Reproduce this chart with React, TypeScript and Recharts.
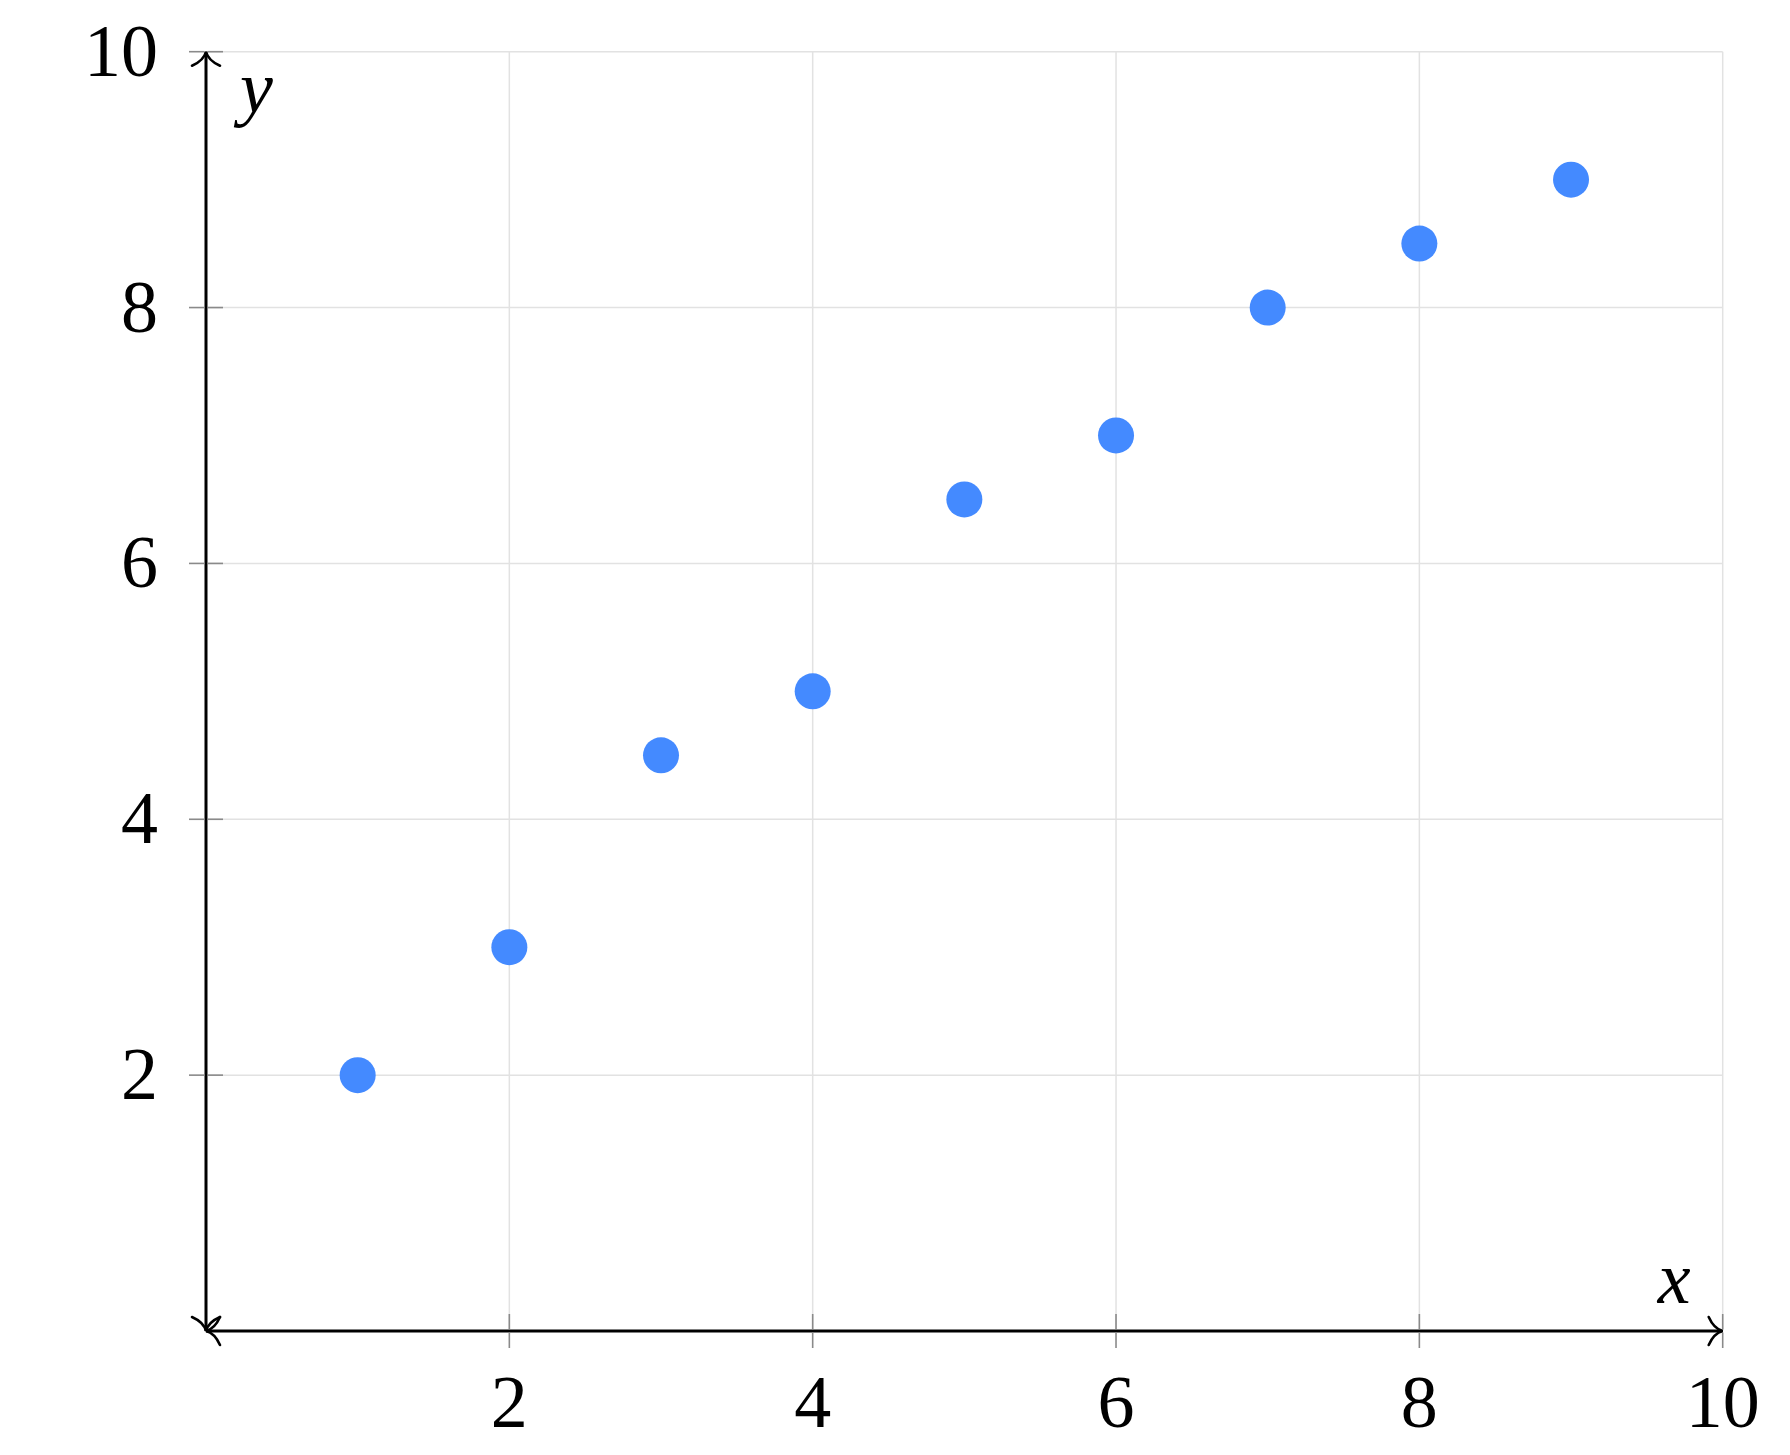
import React from 'react';
import { ScatterChart, Scatter, XAxis, YAxis, CartesianGrid } from 'recharts';

const xValues = [1, 2, 3, 4, 5, 6, 7, 8, 9];
const yValues = [2, 3, 4.5, 5, 6.5, 7, 8, 8.5, 9];
const xTicks = [2, 4, 6, 8, 10];
const yTicks = [2, 4, 6, 8, 10];
const axisDomain: [number, number] = [0, 10];
const xAxisName = 'x';
const yAxisName = 'y';

const data = xValues.map((x, i) => ({ x, y: yValues[i] }));

const FONT = '"Liberation Serif", "DejaVu Serif", serif';
const TICK_COLOR = '#8a8a8a';

const XTick = (props: any) => {
  const { x, y, payload } = props;
  return (
    <g>
      <line x1={x} x2={x} y1={y - 17} y2={y - 1.5} stroke={TICK_COLOR} strokeWidth={1.6} />
      <line x1={x} x2={x} y1={y + 1.5} y2={y + 17} stroke={TICK_COLOR} strokeWidth={1.6} />
      <text x={x} y={y + 96} textAnchor="middle" fontFamily={FONT} fontSize={74} fill="#000">
        {payload.value}
      </text>
    </g>
  );
};

const YTick = (props: any) => {
  const { x, y, payload } = props;
  return (
    <g>
      <line x1={x - 17} x2={x - 1.5} y1={y} y2={y} stroke={TICK_COLOR} strokeWidth={1.6} />
      <line x1={x + 1.5} x2={x + 17} y1={y} y2={y} stroke={TICK_COLOR} strokeWidth={1.6} />
      <text x={x - 48} y={y + 24} textAnchor="end" fontFamily={FONT} fontSize={74} fill="#000">
        {payload.value}
      </text>
    </g>
  );
};

const XLabel = (props: any) => {
  const vb = props.viewBox || {};
  return (
    <text
      x={vb.x + vb.width - 32}
      y={vb.y - 28}
      textAnchor="end"
      fontFamily={FONT}
      fontStyle="italic"
      fontSize={74}
      fill="#000"
    >
      {xAxisName}
    </text>
  );
};

const YLabel = (props: any) => {
  const vb = props.viewBox || {};
  return (
    <text
      x={vb.x + vb.width + 34}
      y={vb.y + 60}
      textAnchor="start"
      fontFamily={FONT}
      fontStyle="italic"
      fontSize={74}
      fill="#000"
    >
      {yAxisName}
    </text>
  );
};

const Dot = (props: any) => {
  const { cx, cy } = props;
  if (cx == null || cy == null) return null;
  return <circle cx={cx} cy={cy} r={18} fill="#448AFF" />;
};

const axisLineStyle: any = {
  stroke: '#000',
  strokeWidth: 3,
  markerStart: 'url(#arrowHead)',
  markerEnd: 'url(#arrowHead)',
};

export default function App() {
  return (
    <div style={{ position: 'absolute', left: 0, top: 0, width: 1790, height: 1455, background: '#fff' }}>
      <svg width={0} height={0} style={{ position: 'absolute' }}>
        <defs>
          <marker
            id="arrowHead"
            viewBox="-20 -20 40 40"
            markerWidth={40}
            markerHeight={40}
            refX={0}
            refY={0}
            orient="auto-start-reverse"
            markerUnits="userSpaceOnUse"
          >
            <path
              d="M -14 -14 C -10 -5 -4 -1 0 0 C -4 1 -10 5 -14 14"
              fill="none"
              stroke="#000"
              strokeWidth={2.6}
              strokeLinecap="round"
            />
          </marker>
        </defs>
      </svg>
      <ScatterChart
        width={1790}
        height={1455}
        margin={{ top: 51.7, right: 67.3, bottom: 123, left: 205 }}
      >
        <CartesianGrid stroke="#e2e2e2" strokeWidth={1.5} />
        <XAxis
          type="number"
          dataKey="x"
          domain={axisDomain}
          ticks={xTicks}
          allowDataOverflow
          height={1}
          tickSize={0}
          tickMargin={0}
          tickLine={false}
          tick={<XTick />}
          axisLine={axisLineStyle}
          interval={0}
          label={{ content: <XLabel /> } as any}
        />
        <YAxis
          type="number"
          dataKey="y"
          domain={axisDomain}
          ticks={yTicks}
          allowDataOverflow
          width={1}
          tickSize={0}
          tickMargin={0}
          tickLine={false}
          tick={<YTick />}
          axisLine={axisLineStyle}
          interval={0}
          label={{ content: <YLabel /> } as any}
        />
        <Scatter data={data} shape={<Dot />} isAnimationActive={false} />
      </ScatterChart>
    </div>
  );
}
